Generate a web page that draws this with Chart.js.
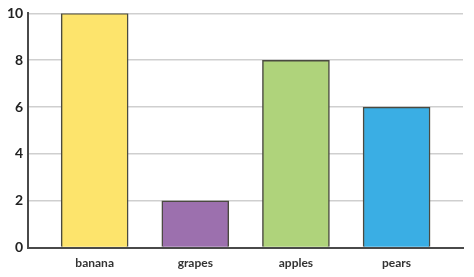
<!DOCTYPE html>
<html>
<head>
<meta charset="utf-8">
<script src="https://cdn.jsdelivr.net/npm/chart.js@4"></script>
<style>
  html, body { margin: 0; padding: 0; background: #fff; }
  canvas { display: block; }
</style>
</head>
<body>
<canvas id="fruitChart" width="474" height="277"></canvas>
<script>
// chart data
const fruits = ["banana", "grapes", "apples", "pears"];
const counts = [10, 2, 8, 6];
const barColours = ["#FDE46C", "#9C70AE", "#AFD37B", "#3AAEE4"];
const yTicks = [0, 2, 4, 6, 8, 10];

const ctx = document.getElementById("fruitChart").getContext("2d");
new Chart(ctx, {
    type: 'bar',
    data: {
        datasets: [{
            data: counts.map((v, i) => ({ x: i, y: v })),
            backgroundColor: barColours,
            borderColor: "#4a4a40",
            borderWidth: 1.5,
            barThickness: 67
        }]
    },
    options: {
        responsive: false,
        animation: false,
        layout: { padding: { top: 8, right: 11, left: 2, bottom: 7 } },
        plugins: {
            legend: { display: false },
            tooltip: { enabled: false }
        },
        scales: {
            x: {
                type: 'linear',
                offset: false,
                min: -0.66,
                max: 3.66,
                grid: { display: false },
                border: { color: "#4a4a4a", width: 2 },
                ticks: {
                    stepSize: 1,
                    includeBounds: false,
                    autoSkip: false,
                    maxRotation: 0,
                    padding: 0,
                    color: "#333",
                    font: { family: "Lato", weight: "bold", size: 12 },
                    callback: v => Number.isInteger(v) && fruits[v] !== undefined ? fruits[v] : ""
                }
            },
            y: {
                min: yTicks[0],
                max: yTicks[yTicks.length - 1],
                grid: { color: "#cfcfcf", lineWidth: 1.5, drawTicks: false },
                border: { color: "#4a4a4a", width: 2 },
                afterBuildTicks: axis => { axis.ticks = yTicks.map(v => ({ value: v })); },
                ticks: {
                    autoSkip: false,
                    padding: 5,
                    color: "#222",
                    font: { family: "Lato", weight: "bold", size: 14 }
                }
            }
        }
    }
});
</script>
</body>
</html>
